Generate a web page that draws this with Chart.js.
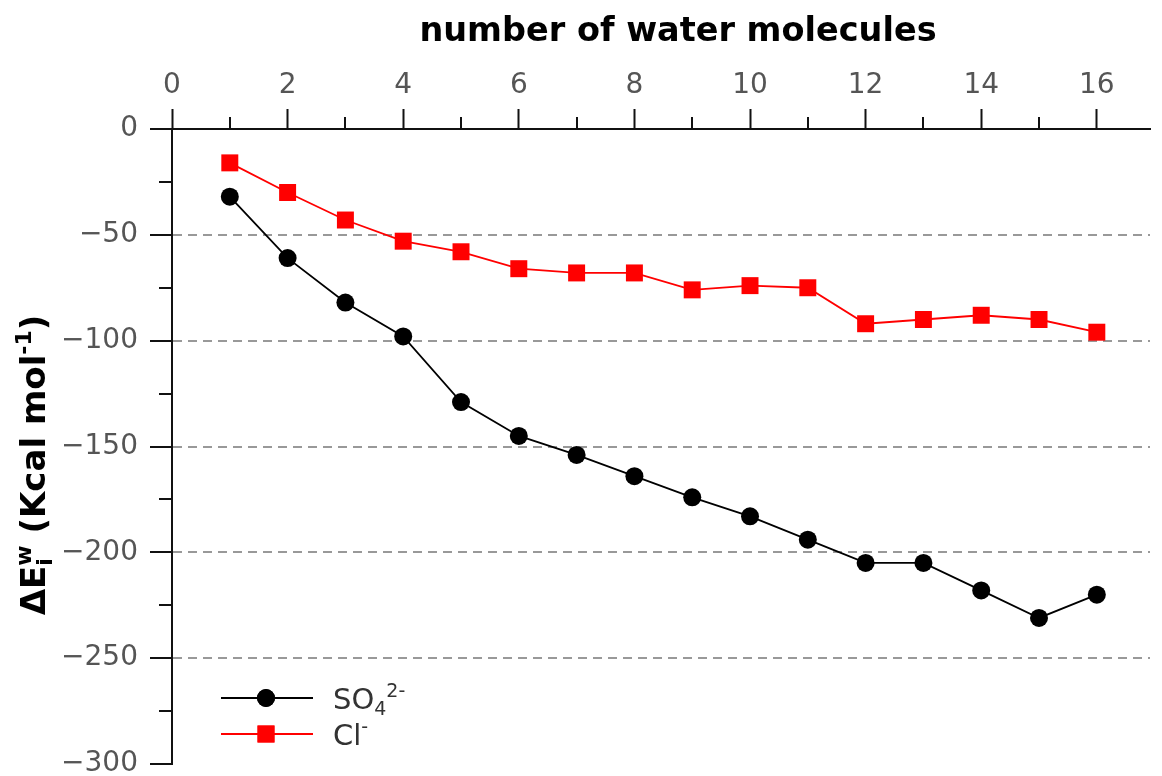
<!DOCTYPE html>
<html>
<head>
<meta charset="utf-8">
<script src="https://cdn.jsdelivr.net/npm/chart.js@4.4.1/dist/chart.umd.min.js"></script>
<style>
  html, body { margin: 0; padding: 0; background: #fff; }
  #wrap { width: 1162px; height: 776px; position: relative; }
</style>
</head>
<body>
<div id="wrap"><canvas id="chart"></canvas></div>
<script>
// values
const waterCounts = [1, 2, 3, 4, 5, 6, 7, 8, 9, 10, 11, 12, 13, 14, 15, 16];
const so4Energy = [-32, -61, -82, -98, -129, -145, -154, -164, -174, -183, -194, -205, -205, -218, -231, -220];
const clEnergy = [-16, -30, -43, -53, -58, -66, -68, -68, -76, -74, -75, -92, -90, -88, -90, -96];

const xTicks = [0, 2, 4, 6, 8, 10, 12, 14, 16];
const xMinorTicks = [1, 3, 5, 7, 9, 11, 13, 15];
const yTicks = [0, -50, -100, -150, -200, -250, -300];
const yMinorTicks = [-25, -75, -125, -175, -225, -275];

const FONT = "'DejaVu Sans', sans-serif";
const AXIS_COLOR = '#111';

// Function to measure text with sub/superscript pieces
function measureRich(ctx, parts, size, weight) {
    const small = Math.round(size * 0.66);
    let width = 0;
    parts.forEach(p => {
        ctx.font = `${weight} ${p.pos ? small : size}px ${FONT}`;
        if (!p.stack) width += ctx.measureText(p.text).width;
    });
    return width;
}

// Function to draw text with sub/superscript pieces
function drawRich(ctx, x, y, parts, size, weight, color) {
    const small = Math.round(size * 0.66);
    let cx = x;
    ctx.fillStyle = color;
    ctx.textBaseline = 'alphabetic';
    ctx.textAlign = 'left';
    parts.forEach(p => {
        ctx.font = `${weight} ${p.pos ? small : size}px ${FONT}`;
        let dy = 0;
        if (p.pos === 'sup') dy = -size * 0.42;
        if (p.pos === 'sub') dy = size * 0.2;
        ctx.fillText(p.text, cx, y + dy);
        if (!p.stack) cx += ctx.measureText(p.text).width;
    });
}

// Plugin for minor ticks, titles and legend
const extrasPlugin = {
    id: 'extras',
    afterDraw(chart) {
        const ctx = chart.ctx;
        const xs = chart.scales.x;
        const ys = chart.scales.y;
        const area = chart.chartArea;

        ctx.save();
        ctx.strokeStyle = AXIS_COLOR;
        ctx.lineWidth = 2;
        ctx.beginPath();
        xMinorTicks.forEach(v => {
            const px = Math.round(xs.getPixelForValue(v));
            ctx.moveTo(px, area.top);
            ctx.lineTo(px, area.top - 12);
        });
        yMinorTicks.forEach(v => {
            const py = Math.round(ys.getPixelForValue(v));
            ctx.moveTo(area.left, py);
            ctx.lineTo(area.left - 13, py);
        });
        ctx.stroke();

        // x axis title
        ctx.font = `bold 33.5px ${FONT}`;
        ctx.fillStyle = '#000';
        ctx.textAlign = 'center';
        ctx.textBaseline = 'middle';
        ctx.fillText('number of water molecules', 678, 32);

        // y axis title, rotated
        ctx.save();
        ctx.translate(45, 465);
        ctx.rotate(-Math.PI / 2);
        const yParts = [
            { text: 'ΔE' },
            { text: 'i', pos: 'sub', stack: true },
            { text: 'w', pos: 'sup' },
            { text: ' (Kcal mol' },
            { text: '-1', pos: 'sup' },
            { text: ')' }
        ];
        const total = measureRich(ctx, yParts, 34, 'bold');
        drawRich(ctx, -total / 2, 0, yParts, 34, 'bold', '#000');
        ctx.restore();

        // legend
        const legendItems = [
            { y: 698, color: '#000', style: 'circle', radius: 9,
              parts: [{ text: 'SO' }, { text: '4', pos: 'sub' }, { text: '2-', pos: 'sup' }] },
            { y: 734, color: '#ff0000', style: 'rect', radius: 12,
              parts: [{ text: 'Cl' }, { text: '-', pos: 'sup' }] }
        ];
        legendItems.forEach(item => {
            ctx.strokeStyle = item.color;
            ctx.lineWidth = 1.8;
            ctx.beginPath();
            ctx.moveTo(221, item.y);
            ctx.lineTo(313, item.y);
            ctx.stroke();
            ctx.fillStyle = item.color;
            Chart.helpers.drawPoint(ctx, { pointStyle: item.style, radius: item.radius, borderWidth: 0 }, 266, item.y);
            ctx.fill();
            drawRich(ctx, 333, item.y + 11, item.parts, 29, 'normal', '#333');
        });
        ctx.restore();
    }
};

const ctx = document.getElementById('chart').getContext('2d');
new Chart(ctx, {
    type: 'line',
    data: {
        datasets: [
            {
                label: 'SO4 2-',
                data: waterCounts.map((n, i) => ({ x: n, y: so4Energy[i] })),
                borderColor: '#000',
                backgroundColor: '#000',
                borderWidth: 1.8,
                pointStyle: 'circle',
                pointRadius: 9,
                pointBorderWidth: 0,
                tension: 0
            },
            {
                label: 'Cl-',
                data: waterCounts.map((n, i) => ({ x: n, y: clEnergy[i] })),
                borderColor: '#ff0000',
                backgroundColor: '#ff0000',
                borderWidth: 1.8,
                pointStyle: 'rect',
                pointRadius: 12,
                pointBorderWidth: 0,
                tension: 0
            }
        ]
    },
    options: {
        responsive: true,
        maintainAspectRatio: false,
        animation: false,
        layout: { padding: { left: 0, top: 0, right: 0, bottom: 12 } },
        plugins: {
            legend: { display: false },
            tooltip: { enabled: false }
        },
        scales: {
            x: {
                type: 'linear',
                position: 'top',
                min: 0,
                max: 16.92,
                afterBuildTicks: scale => { scale.ticks = xTicks.map(v => ({ value: v })); },
                afterFit: scale => {
                    scale.height = 129;
                    scale.paddingLeft = 0;
                    scale.paddingRight = 0;
                },
                ticks: {
                    font: { family: FONT, size: 28 },
                    color: '#555',
                    padding: 6,
                    maxRotation: 0
                },
                grid: {
                    drawOnChartArea: false,
                    drawTicks: true,
                    tickLength: 20,
                    tickColor: AXIS_COLOR,
                    tickWidth: 2
                },
                border: { display: true, color: AXIS_COLOR, width: 2 }
            },
            y: {
                type: 'linear',
                min: -300,
                max: 0,
                afterBuildTicks: scale => { scale.ticks = yTicks.map(v => ({ value: v })); },
                afterFit: scale => {
                    scale.width = 172;
                    scale.paddingTop = 0;
                    scale.paddingBottom = 0;
                },
                ticks: {
                    font: { family: FONT, size: 28 },
                    color: '#555',
                    padding: 12,
                    callback: v => String(v).replace('-', '\u2212')
                },
                grid: {
                    drawOnChartArea: true,
                    drawTicks: true,
                    tickLength: 22,
                    tickColor: AXIS_COLOR,
                    tickWidth: 2,
                    lineWidth: 2,
                    color: c => (c.tick && (c.tick.value === 0 || c.tick.value === -300)) ? 'rgba(0,0,0,0)' : '#999'
                },
                border: { display: true, color: AXIS_COLOR, width: 2, dash: [9, 6] }
            }
        }
    },
    plugins: [extrasPlugin]
});
</script>
</body>
</html>
